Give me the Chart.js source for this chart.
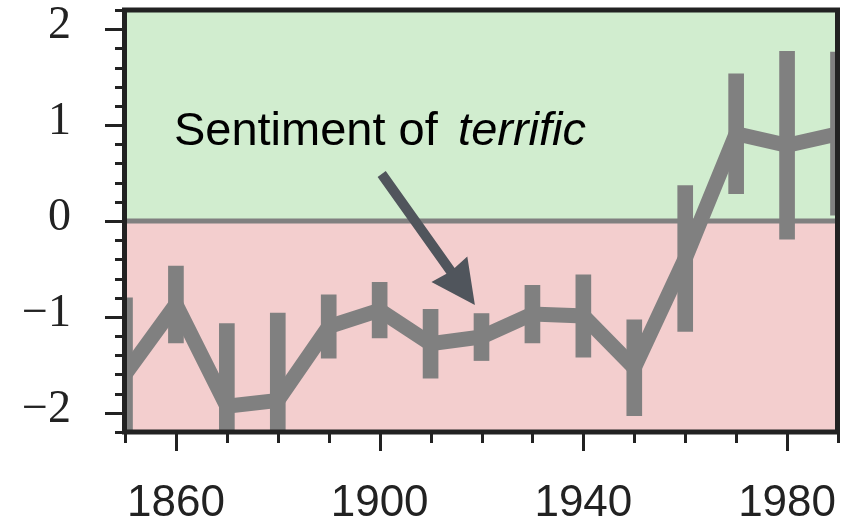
<!DOCTYPE html>
<html><head><meta charset="utf-8">
<script src="https://cdn.jsdelivr.net/npm/chart.js@4.4.1/dist/chart.umd.min.js"></script>
<style>html,body{margin:0;padding:0;background:#fff;overflow:hidden;}</style>
</head><body>
<canvas id="c" width="844" height="529"></canvas>
<script>
// ---- data ----
const years  = [1850, 1860, 1870, 1880, 1890, 1900, 1910, 1920, 1930, 1940, 1950, 1960, 1970, 1980, 1990];
const values = [-1.60, -0.87, -1.93, -1.87, -1.10, -0.93, -1.28, -1.21, -0.97, -0.99, -1.53, -0.39, 0.91, 0.79, 0.91];
const errors = [0.80, 0.40, 0.86, 0.91, 0.33, 0.29, 0.36, 0.245, 0.30, 0.43, 0.50, 0.76, 0.625, 0.98, 0.85];
const xTickLabels = [1860, 1900, 1940, 1980];
const yTickLabels = [-2, -1, 0, 1, 2];
const annotationText = ["Sentiment of", "terrific"];

const GRAY = '#808080';
const INK = '#222222';

function zeroPad(s) { s.paddingTop = 0; s.paddingBottom = 0; s.paddingLeft = 0; s.paddingRight = 0; }

const bgPlugin = {
  id: 'bg',
  beforeDatasetsDraw(chart) {
    const {ctx, chartArea: a, scales: {y}} = chart;
    const y0 = y.getPixelForValue(0);
    ctx.save();
    ctx.fillStyle = 'rgb(209,237,207)';
    ctx.fillRect(a.left, a.top, a.right - a.left, y0 - a.top);
    ctx.fillStyle = 'rgb(243,206,206)';
    ctx.fillRect(a.left, y0, a.right - a.left, a.bottom - y0);
    ctx.strokeStyle = GRAY;
    ctx.lineWidth = 5;
    ctx.beginPath();
    ctx.moveTo(a.left, y0); ctx.lineTo(a.right, y0);
    ctx.stroke();
    ctx.restore();
  }
};

const framePlugin = {
  id: 'frame',
  afterDatasetsDraw(chart) {
    const {ctx, chartArea: a, scales: {x, y}} = chart;
    ctx.save();
    ctx.strokeStyle = INK;
    ctx.lineWidth = 5;
    ctx.strokeRect(a.left - 0.5, a.top, a.right - a.left, a.bottom - a.top);
    // tick marks
    ctx.lineWidth = 3;
    ctx.beginPath();
    for (let k = -11; k <= 11; k++) {
      const v = k / 5;
      const major = (k % 5 === 0);
      const py = Math.round(y.getPixelForValue(v)) + 0.5;
      const len = major ? 17 : 7;
      ctx.moveTo(a.left - 3, py); ctx.lineTo(a.left - 3 - len, py);
    }
    for (let yr = 1850; yr <= 1990; yr += 10) {
      const major = xTickLabels.includes(yr);
      const px = Math.round(x.getPixelForValue(yr)) + 0.5;
      const len = major ? 17 : 9;
      ctx.moveTo(px, a.bottom + 2); ctx.lineTo(px, a.bottom + 2 + len);
    }
    ctx.stroke();

    // annotation arrow (data coordinates)
    const tx = x.getPixelForValue(1900.4), ty = y.getPixelForValue(0.49);
    const hx = x.getPixelForValue(1918.7), hy = y.getPixelForValue(-0.876);
    const dx = hx - tx, dy = hy - ty, L = Math.hypot(dx, dy);
    const ux = dx / L, uy = dy / L, nx = -uy, ny = ux;
    const headLen = 44, headHalf = 22, shaftHalf = 5;
    const bx = hx - ux * headLen, by = hy - uy * headLen;
    ctx.fillStyle = '#50555c';
    ctx.beginPath();
    ctx.moveTo(tx + nx * shaftHalf, ty + ny * shaftHalf);
    ctx.lineTo(bx + nx * shaftHalf + ux * 2, by + ny * shaftHalf + uy * 2);
    ctx.lineTo(bx + nx * headHalf, by + ny * headHalf);
    ctx.lineTo(hx, hy);
    ctx.lineTo(bx - nx * headHalf, by - ny * headHalf);
    ctx.lineTo(bx - nx * shaftHalf + ux * 2, by - ny * shaftHalf + uy * 2);
    ctx.lineTo(tx - nx * shaftHalf, ty - ny * shaftHalf);
    ctx.closePath();
    ctx.fill();

    // annotation text
    ctx.fillStyle = '#000';
    ctx.textBaseline = 'alphabetic';
    ctx.textAlign = 'left';
    ctx.font = '47px "Liberation Sans", Arial, sans-serif';
    ctx.fillText(annotationText[0], x.getPixelForValue(1859.6), y.getPixelForValue(0.795));
    ctx.font = 'italic 47px "Liberation Sans", Arial, sans-serif';
    ctx.fillText(annotationText[1], x.getPixelForValue(1915.4), y.getPixelForValue(0.795));
    ctx.restore();
  }
};

new Chart(document.getElementById('c'), {
  data: {
    datasets: [
      {
        type: 'line',
        data: years.map((yr, i) => ({x: yr, y: values[i]})),
        borderColor: GRAY,
        borderWidth: 15,
        borderJoinStyle: 'miter',
        borderCapStyle: 'butt',
        pointRadius: 0,
        tension: 0,
        fill: false,
        clip: 0,
        order: 1
      },
      {
        type: 'bar',
        data: years.map((yr, i) => ({x: yr, y: [values[i] - errors[i], values[i] + errors[i]]})),
        backgroundColor: GRAY,
        borderWidth: 0,
        barThickness: 15,
        clip: 0,
        order: 2
      }
    ]
  },
  options: {
    responsive: false,
    animation: false,
    devicePixelRatio: 1,
    layout: {padding: {top: 10, right: 6, left: 0, bottom: 0}, autoPadding: false},
    plugins: {legend: {display: false}, tooltip: {enabled: false}},
    scales: {
      x: {
        type: 'linear', min: 1850, max: 1990, offset: false,
        grid: {display: false, drawTicks: false},
        border: {display: false},
        afterBuildTicks: s => { s.ticks = xTickLabels.map(v => ({value: v})); },
        afterFit: s => { s.height = 97; zeroPad(s); },
        ticks: {
          padding: 45, maxRotation: 0, autoSkip: false, color: INK,
          font: {family: '"Liberation Sans", Arial, sans-serif', size: 44},
          callback: v => String(v)
        }
      },
      y: {
        type: 'linear', min: -2.2, max: 2.2,
        grid: {display: false, drawTicks: false},
        border: {display: false},
        afterBuildTicks: s => { s.ticks = yTickLabels.map(v => ({value: v})); },
        afterFit: s => { s.width = 125; zeroPad(s); },
        ticks: {
          padding: 54, labelOffset: -3, autoSkip: false, color: INK,
          font: {family: '"Liberation Serif", "Times New Roman", serif', size: 46},
          callback: v => (v < 0 ? '\u2212' + Math.abs(v) : String(v))
        }
      }
    }
  },
  plugins: [bgPlugin, framePlugin]
});
</script>
</body></html>
